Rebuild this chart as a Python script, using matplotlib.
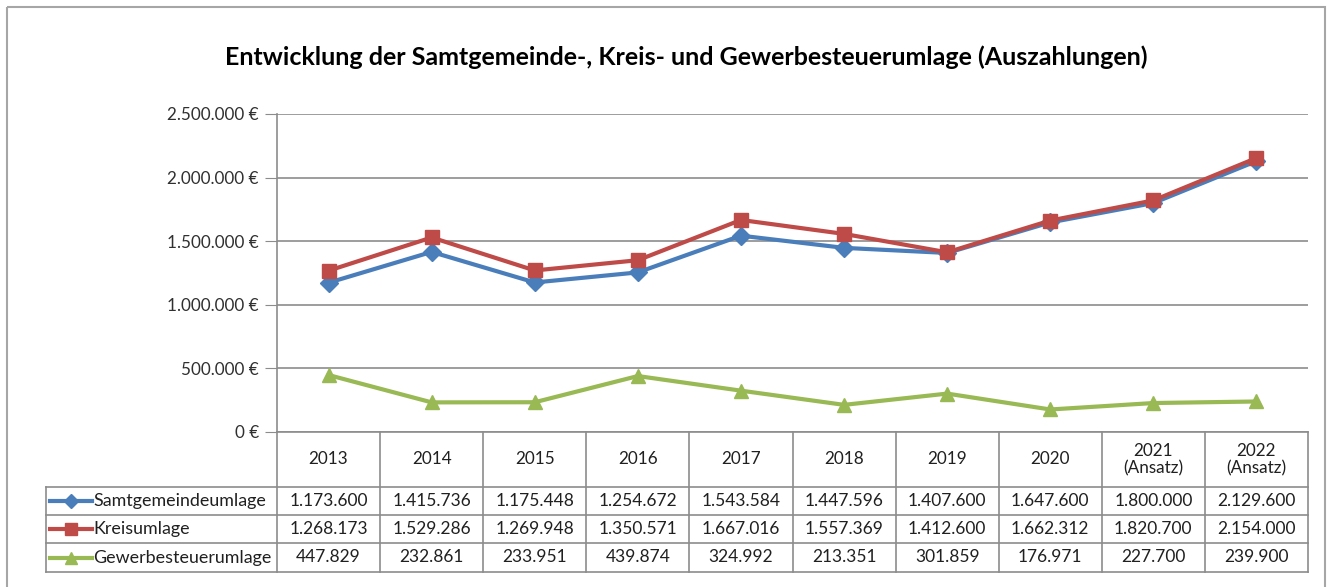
import matplotlib.pyplot as plt
from matplotlib.patches import Rectangle

# data
years = ["2013", "2014", "2015", "2016", "2017", "2018", "2019", "2020",
         "2021\n(Ansatz)", "2022\n(Ansatz)"]
samtgemeinde = [1173600, 1415736, 1175448, 1254672, 1543584, 1447596,
                1407600, 1647600, 1800000, 2129600]
kreis = [1268173, 1529286, 1269948, 1350571, 1667016, 1557369,
         1412600, 1662312, 1820700, 2154000]
gewerbe = [447829, 232861, 233951, 439874, 324992, 213351,
           301859, 176971, 227700, 239900]
y_ticks = [0, 500000, 1000000, 1500000, 2000000, 2500000]

series = [
    ("Samtgemeindeumlage", samtgemeinde, "#4A7EBB", "D", 9),
    ("Kreisumlage", kreis, "#BE4B48", "s", 10),
    ("Gewerbesteuerumlage", gewerbe, "#98B954", "^", 10),
]

W, H = 1335, 587
FONT = ["Lato", "DejaVu Sans"]
GRID = "#8C8C8C"
plt.rcParams["font.family"] = FONT


def de(v):
    return f"{v:,}".replace(",", ".")


def fx(px):
    return px / W


def fy(py):
    return 1 - py / H


fig = plt.figure(figsize=(W / 100, H / 100), dpi=100)

# pixel overlay for frame and table
ov = fig.add_axes([0, 0, 1, 1])
ov.set_xlim(0, W)
ov.set_ylim(H, 0)
ov.axis("off")
ov.add_patch(Rectangle((7, 7), 1318, 600, fill=False, ec="#A6A6A6", lw=1.5))

# main chart
left, right, top, bottom = 277, 1308, 114, 432
ax = fig.add_axes([fx(left), fy(bottom), (right - left) / W, (bottom - top) / H])
x = list(range(len(years)))
for name, vals, color, marker, ms in series:
    ax.plot(x, vals, color=color, lw=3, marker=marker, ms=ms, zorder=3)
ax.set_xlim(-0.5, len(years) - 0.5)
ax.set_ylim(0, 2500000)
ax.set_yticks(y_ticks)
ax.set_yticklabels([de(v) + " €" for v in y_ticks], fontsize=12.3, color="#303030")
ax.tick_params(axis="y", length=9, color=GRID, pad=4)
ax.set_xticks([])
ax.grid(axis="y", color=GRID, lw=1.2)
ax.set_axisbelow(True)
for s in ["top", "right"]:
    ax.spines[s].set_visible(False)
for s in ["left", "bottom"]:
    ax.spines[s].set_color(GRID)
    ax.spines[s].set_linewidth(1.2)
ax.set_facecolor("none")

fig.text(0.514, fy(57), "Entwicklung der Samtgemeinde-, Kreis- und Gewerbesteuerumlage (Auszahlungen)",
         ha="center", va="center", fontsize=18, fontweight="bold", color="black")

# data table
n = len(years)
cw = (right - left) / n
xs = [left + i * cw for i in range(n + 1)]
rows_y = [487, 515, 543, 572]
tab_left = 46
for xe in xs:
    ov.plot([xe, xe], [bottom, rows_y[-1]], color=GRID, lw=1.2)
ov.plot([tab_left, tab_left], [rows_y[0], rows_y[-1]], color=GRID, lw=1.2)
for yr in rows_y:
    ov.plot([tab_left, right], [yr, yr], color=GRID, lw=1.2)

for i, yl in enumerate(years):
    ov.text(left + (i + 0.5) * cw, (bottom + rows_y[0]) / 2, yl, ha="center",
            va="center", fontsize=12.3, color="#202020", linespacing=1.1)

for r, (name, vals, color, marker, ms) in enumerate(series):
    yc = (rows_y[r] + rows_y[r + 1]) / 2
    ov.plot([50, 92], [yc, yc], color=color, lw=3)
    ov.plot([71], [yc], color=color, marker=marker, ms=ms - 2, ls="none")
    ov.text(93, yc, name, ha="left", va="center", fontsize=12.9, color="#202020")
    for i, v in enumerate(vals):
        ov.text(left + (i + 0.5) * cw, yc, de(v), ha="center", va="center",
                fontsize=12.5, color="#202020")

fig.savefig("out.png", dpi=100)
